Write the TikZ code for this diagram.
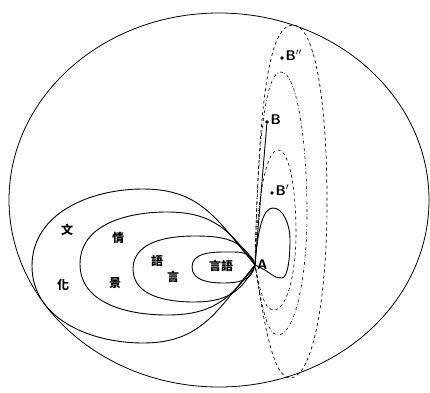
\documentclass[tikz,border=0pt]{standalone}
\usepackage{fontspec}
\usepackage{tikz}
\usetikzlibrary{positioning}
\newfontfamily\cjk[BoldFont={Noto Sans CJK TC Black}]{Noto Sans CJK TC}

\begin{document}
\begin{tikzpicture}[x=1pt,y=1pt,
  line/.style={line width=0.9pt},
  han/.style={font=\cjk\bfseries\fontsize{12}{12}\selectfont,inner sep=0pt},
  lbl/.style={font=\sffamily\bfseries\fontsize{14}{14}\selectfont,inner sep=0pt},
  dot/.style={circle,fill,inner sep=0pt,minimum size=3.8pt}]
  \useasboundingbox (0,0) rectangle (430,392);
  \draw[line width=0.8pt](219,192) ellipse (210pt and 187pt);
  \coordinate (A) at (255,127);
  \node[lbl,right=2pt of A] (Alab) {A};
  \foreach \o/\tx/\ty/\lx/\ly/\by in {100/223/140/192/125/109, 115/194/156/133/123/90, 125/167/180/80/128/77, 130/143/203/32/126/49}
    \draw[line] (A) to[out=\o,in=0,looseness=1.1] (\tx,\ty) to[out=180,in=90] (\lx,\ly) to[out=270,in=180] (\tx,\by) to[out=0,in=360-\o,looseness=1.1] (A);
  \draw[line] (A) .. controls +(3,40) and +(-9,0) .. (273,184) .. controls +(10,0) and +(0,16) .. (290,152) .. controls +(0,-22) and +(5,0) .. (282,114) .. controls +(-10,0) and +(18,-8) .. (A);
  \draw[line width=0.6pt,dashed] (A) .. controls +(3,80) and +(-10,0) .. (278,242) .. controls +(12,0) and +(0,40) .. (296,160) .. controls +(0,-45) and +(12,0) .. (274,82) .. controls +(-10,0) and +(5,-25) .. (A);
  \draw[line width=0.6pt,dash dot] (A) .. controls +(3,140) and +(-14,0) .. (281,320) .. controls +(16,0) and +(0,70) .. (307,180) .. controls +(0,-70) and +(16,0) .. (278,57) .. controls +(-12,0) and +(6,-35) .. (A);
  \draw[line width=0.7pt,dashed] (A) .. controls +(4,180) and +(-22,0) .. (293,367) .. controls +(22,0) and +(0,100) .. (327,190) .. controls +(0,-100) and +(22,0) .. (290,14) .. controls +(-18,0) and +(8,-50) .. (A);
  \node[dot] (B) at (267,270) {};
  \node[dot] (Bp) at (272,199) {};
  \node[dot] (Bpp) at (282,334) {};
  \draw[line] (A) -- (B);
  \node[lbl,above right=-4pt and 2pt of B] (Blab) {B};
  \node[lbl,above right=-4pt and 2pt of Bp] (Bplab) {B$'$};
  \node[lbl,above right=-4pt and 2pt of Bpp] (Bpplab) {B$''$};
  \node[han] (wen) at (67,162) {文};
  \node[han] (hua) at (63,107) {化};
  \node[han] (qing) at (118,154) {情};
  \node[han] (jing) at (115,109) {景};
  \node[han] (yu) at (157,131) {語};
  \node[han] (yan) at (173,115) {言};
  \node[han] (yanyu) at (221,126) {言語};
\end{tikzpicture}
\end{document}
